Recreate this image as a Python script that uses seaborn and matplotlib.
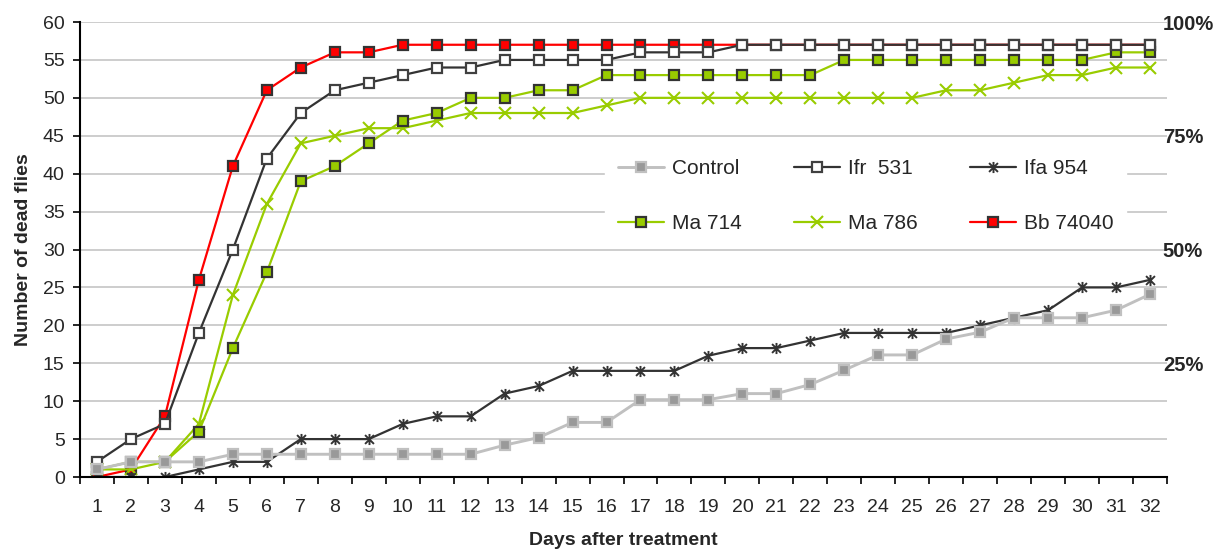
import numpy as np
import pandas as pd
import seaborn as sns
import matplotlib.pyplot as plt
from matplotlib.path import Path

# days after treatment and the number of dead flies for each strain
days = list(range(1, 33))
control = [1, 2, 2, 2, 3, 3, 3, 3, 3, 3, 3, 3, 4.2, 5.2, 7.2, 7.2, 10.2, 10.2, 10.2, 11, 11, 12.2,
           14.1, 16.1, 16.1, 18.2, 19.1, 21, 21, 21, 22, 24.1]
ifr_531 = [2, 5, 7, 19, 30, 42, 48, 51, 52, 53, 54, 54, 55, 55, 55, 55, 56, 56, 56, 57, 57, 57,
           57, 57, 57, 57, 57, 57, 57, 57, 57, 57]
ifa_954 = [0, 0, 0, 1, 2, 2, 5, 5, 5, 7, 8, 8, 11, 12, 14, 14, 14, 14, 16, 17, 17, 18,
           19, 19, 19, 19, 20, 21, 22, 25, 25, 26]
ma_714 = [1, 2, 2, 6, 17, 27, 39, 41, 44, 47, 48, 50, 50, 51, 51, 53, 53, 53, 53, 53, 53, 53,
          55, 55, 55, 55, 55, 55, 55, 55, 56, 56]
ma_786 = [1, 1, 2, 7, 24, 36, 44, 45, 46, 46, 47, 48, 48, 48, 48, 49, 50, 50, 50, 50, 50, 50,
          50, 50, 50, 51, 51, 52, 53, 53, 54, 54]
bb_74040 = [0, 1, 8, 26, 41, 51, 54, 56, 56, 57, 57, 57, 57, 57, 57, 57, 57, 57, 57, 57, 57, 57,
            57, 57, 57, 57, 57, 57, 57, 57, 57, 57]

labels = ['Control', 'Ifr  531', 'Ifa 954', 'Ma 714', 'Ma 786', 'Bb 74040']
pct_ticks = [15, 30, 45, 60]
pct_labels = ['25%', '50%', '75%', '100%']

df = pd.DataFrame({'day': days, 'Control': control, 'Ifr  531': ifr_531, 'Ifa 954': ifa_954,
                   'Ma 714': ma_714, 'Ma 786': ma_786, 'Bb 74040': bb_74040})

sns.set_style('white')
plt.rcParams['font.family'] = ['Liberation Sans', 'DejaVu Sans']

# excel style star: an x with a vertical bar through it
star = Path([(-1, -1), (1, 1), (-1, 1), (1, -1), (0, -1.25), (0, 1.25)],
            [Path.MOVETO, Path.LINETO, Path.MOVETO, Path.LINETO, Path.MOVETO, Path.LINETO])

green = '#99cc00'
styles = {
    'Control': dict(color='#c0c0c0', lw=2.1, marker='s', ms=6.5, mfc='#999999', mec='#c0c0c0', mew=1.6),
    'Ifr  531': dict(color='#333333', lw=1.6, marker='s', ms=6.5, mfc='white', mec='#404040', mew=1.6),
    'Ifa 954': dict(color='#333333', lw=1.6, marker=star, ms=8, mfc='none', mec='#333333', mew=1.4),
    'Ma 714': dict(color=green, lw=1.6, marker='s', ms=6.5, mfc=green, mec='#333333', mew=1.6),
    'Ma 786': dict(color=green, lw=1.6, marker='x', ms=8, mec=green, mew=1.5),
    'Bb 74040': dict(color='#ff0000', lw=1.6, marker='s', ms=6.5, mfc='#ff0000', mec='#333333', mew=1.6),
}

fig = plt.figure(figsize=(12.21, 5.53), dpi=100)
ax = fig.add_axes([0.0655, 0.1374, 0.8903, 0.8228])

# draw in reverse order so Control ends up on top, as in the original
for name in labels[::-1]:
    sns.lineplot(data=df, x='day', y=name, ax=ax, label=name, **styles[name])

ax.set_xlim(0.5, 32.5)
ax.set_ylim(0, 60)
ax.set_yticks(range(0, 61, 5))
ax.set_xticks(days)
ax.set_xticks(np.arange(0.5, 33, 1), minor=True)
ax.tick_params(axis='x', which='major', length=0, pad=16, labelsize=14)
ax.tick_params(axis='x', which='minor', length=5, width=1.2, direction='out', color='black')
ax.tick_params(axis='y', length=5, width=1.2, direction='out', color='black', pad=6, labelsize=14)
ax.tick_params(bottom=True, left=True, which='both')
ax.grid(axis='y', color='#c0c0c0', lw=1.1)
ax.grid(axis='x', visible=False)
for side in ['top', 'right']:
    ax.spines[side].set_visible(False)
for side in ['left', 'bottom']:
    ax.spines[side].set_color('black')
    ax.spines[side].set_linewidth(1.5)

ax.set_xlabel('Days after treatment', fontsize=14, fontweight='bold', labelpad=11)
ax.set_ylabel('Number of dead flies', fontsize=14, fontweight='bold', labelpad=8)

# right hand percentage scale
ax2 = ax.twinx()
ax2.set_ylim(0, 60)
ax2.set_yticks(pct_ticks)
ax2.set_yticklabels(pct_labels, fontsize=14.5, fontweight='bold')
ax2.tick_params(axis='y', length=0, pad=-3)
for s in ax2.spines.values():
    s.set_visible(False)
ax2.grid(False)

handles, names = ax.get_legend_handles_labels()
ax.get_legend().remove()
# legend fills column by column, so interleave to get the row order of the original
leg_order = ['Control', 'Ma 714', 'Ifr  531', 'Ma 786', 'Ifa 954', 'Bb 74040']
idx = [names.index(n) for n in leg_order]
ax2.legend([handles[i] for i in idx], leg_order, ncol=3, loc='upper left',
           bbox_to_anchor=(595 / 1221, 1 - 136 / 553), bbox_transform=fig.transFigure,
           fontsize=15, frameon=True, facecolor='white', edgecolor='white', framealpha=1,
           handlelength=2.2, handletextpad=0.4, columnspacing=2.5, labelspacing=1.74,
           borderpad=0.6, fancybox=False)

fig.savefig('out.png', dpi=100)
